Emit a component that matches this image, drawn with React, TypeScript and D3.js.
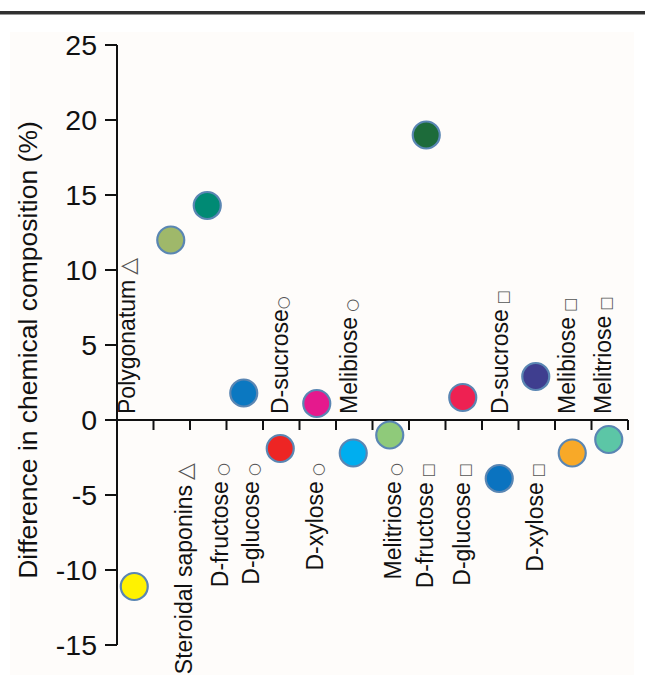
import React from "react";
import * as d3 from "d3";

const W = 645;
const H = 675;

// categories (name + marker)
const names = [
  "Polygonatum",
  "Steroidal saponins",
  "D-fructose",
  "D-glucose",
  "D-sucrose",
  "D-xylose",
  "Melibiose",
  "Melitriose",
  "D-fructose",
  "D-glucose",
  "D-sucrose",
  "D-xylose",
  "Melibiose",
  "Melitriose",
];
const markers = ["△", "△", "○", "○", "○", "○", "○", "○", "□", "□", "□", "□", "□", "□"];
const values = [-11.1, 12.0, 14.3, 1.8, -1.9, 1.1, -2.2, -1.0, 19.0, 1.5, -3.9, 2.9, -2.2, -1.3];
const colors = [
  "#fff200", "#9fb86a", "#008a74", "#0b78c1", "#ed2524", "#e5198d", "#00aeef",
  "#8fca7a", "#1d6b3a", "#ee2152", "#0a73c0", "#3f3e8f", "#f8a928", "#5cc6a6",
];
const labelSide = [
  "above", "below", "below", "below", "above", "below", "above",
  "below", "below", "below", "above", "below", "above", "above",
];
const yTicks = [-15, -10, -5, 0, 5, 10, 15, 20, 25];

// hand placement of the rotated labels (px right of band centre)
const labelNudge = [0, 20, 20, 14, 7, 5, 3, 10, 6, 6, 8, 6, 2, 1];

const FONT = "'Liberation Sans', Arial, Helvetica, sans-serif";
const SYM = "'DejaVu Sans', sans-serif";

export default function App() {
  const keys = names.map((n, i) => `${i}`);
  const x = d3.scaleBand().domain(keys).range([117, 628]);
  const y = d3.scaleLinear().domain([-15, 25]).range([645, 45]);
  const y0 = y(0);

  return (
    <svg
      width={W}
      height={H}
      style={{ position: "absolute", left: 0, top: 0, background: "#fff" }}
    >
      {/* top rule and paper panel */}
      <rect x={0} y={11} width={W} height={3.5} fill="#303030" />
      <rect x={10} y={32} width={624} height={H - 32} fill="#fefcfa" />

      {/* y axis */}
      <line x1={117} x2={117} y1={y(25)} y2={y(-15)} stroke="#111" strokeWidth={2} />
      {yTicks.map((t) => (
        <g key={t}>
          <line x1={105} x2={117} y1={y(t)} y2={y(t)} stroke="#111" strokeWidth={2} />
          <text
            x={97}
            y={y(t)}
            dy="0.36em"
            textAnchor="end"
            fontSize={28.5}
            fontFamily={FONT}
            fill="#111"
          >
            {t}
          </text>
        </g>
      ))}
      <text
        transform={`translate(37, 350) rotate(-90)`}
        textAnchor="middle"
        fontSize={26.5}
        fontFamily={FONT}
        fill="#111"
      >
        Difference in chemical composition (%)
      </text>

      {/* x axis */}
      <line x1={117} x2={628} y1={y0} y2={y0} stroke="#111" strokeWidth={2} />
      {keys.map((k) => (
        <line
          key={k}
          x1={(x(k) as number) + x.step()}
          x2={(x(k) as number) + x.step()}
          y1={y0}
          y2={y0 + 10}
          stroke="#111"
          strokeWidth={2}
        />
      ))}

      {/* labels */}
      {keys.map((k, i) => {
        const cx = (x(k) as number) + x.bandwidth() / 2 + labelNudge[i];
        const above = labelSide[i] === "above";
        const m = markers[i];
        const symSize = m === "△" ? 22 : 15;
        const gap = names[i] === "D-sucrose" && m === "○" ? 0 : 5;
        return (
          <text
            key={k}
            transform={`translate(${cx}, ${above ? 414 : 463}) rotate(-90)`}
            textAnchor={above ? "start" : "end"}
            fontSize={23}
            fontFamily={FONT}
            fill="#111"
          >
            {names[i]}
            <tspan dx={gap} fontFamily={SYM} fontSize={symSize} fill="#555">
              {m}
            </tspan>
          </text>
        );
      })}

      {/* points */}
      {values.map((v, i) => (
        <circle
          key={i}
          cx={(x(keys[i]) as number) + x.bandwidth() / 2 - 1}
          cy={y(v)}
          r={13.5}
          fill={colors[i]}
          stroke="#5a86b3"
          strokeWidth={2.2}
        />
      ))}
    </svg>
  );
}
